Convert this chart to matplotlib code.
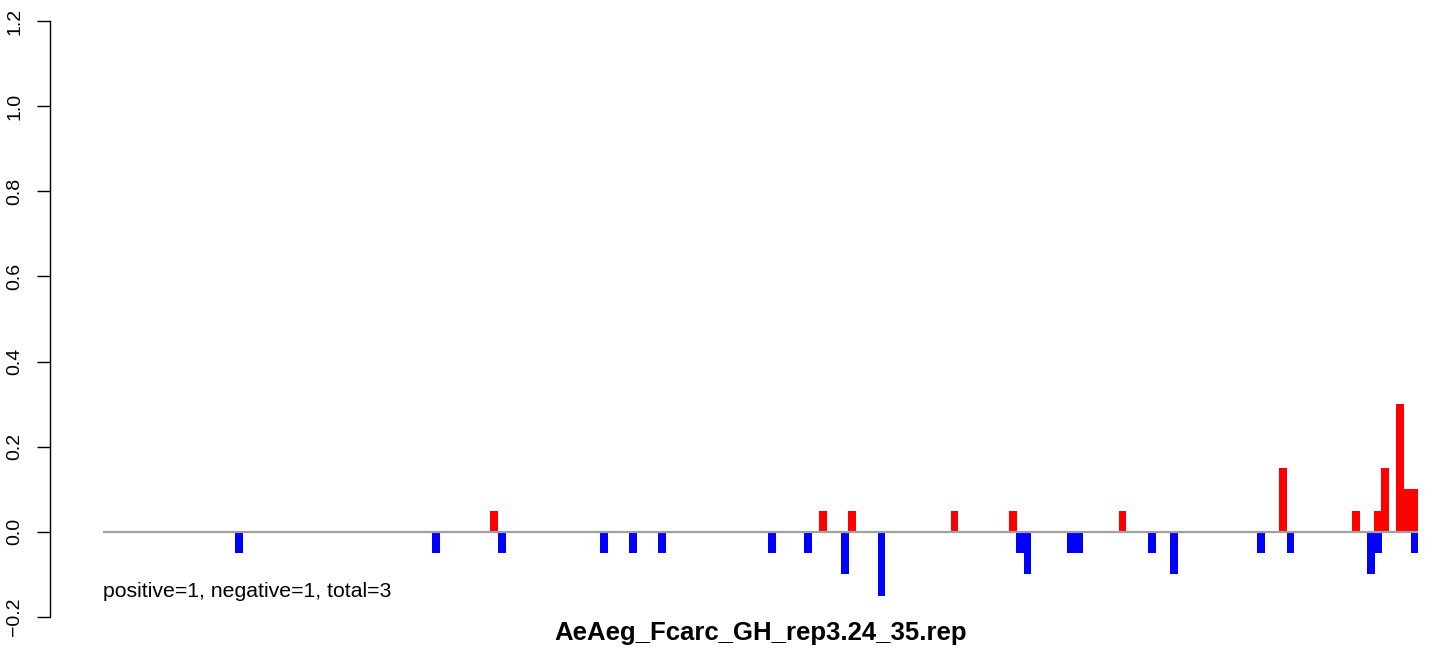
import matplotlib
matplotlib.use("Agg")
import matplotlib.pyplot as plt

plt.rcParams['font.family'] = ['Liberation Sans', 'DejaVu Sans']

# number of positions along the window
n_pos = 180

# positive (red) bars: index, height
pos_idx = [53, 98, 102, 116, 124, 139, 161, 171, 174, 175, 177, 178, 179]
pos_val = [0.05, 0.05, 0.05, 0.05, 0.05, 0.05, 0.15, 0.05, 0.05, 0.15, 0.30, 0.10, 0.10]

# negative (blue) bars: index, height
neg_idx = [18, 45, 54, 68, 72, 76, 91, 96, 101, 106, 125, 126, 132, 133,
           143, 146, 158, 162, 173, 174, 179]
neg_val = [-0.05, -0.05, -0.05, -0.05, -0.05, -0.05, -0.05, -0.05, -0.10, -0.15,
           -0.05, -0.10, -0.05, -0.05, -0.05, -0.10, -0.05, -0.05, -0.10, -0.05, -0.05]

yticks = [-0.2, 0.0, 0.2, 0.4, 0.6, 0.8, 1.0, 1.2]
ytick_labels = ["\u22120.2", "0.0", "0.2", "0.4", "0.6", "0.8", "1.0", "1.2"]
summary = "positive=1, negative=1, total=3"
title = "AeAeg_Fcarc_GH_rep3.24_35.rep"

W, H = 1444, 650
fig = plt.figure(figsize=(W / 100, H / 100), dpi=100)
x0, x1, ytop, ybot = 103.3, 1418, 21, 617
ax = fig.add_axes([x0 / W, (H - ybot) / H, (x1 - x0) / W, (ybot - ytop) / H])

bw = 1.08
ax.bar(pos_idx, pos_val, width=bw, align='edge', color='#FF0000', linewidth=0)
ax.bar(neg_idx, neg_val, width=bw, align='edge', color='#0000FF', linewidth=0)
ax.hlines(0, 0, n_pos, color='#A0A0A0', linewidth=1.6, zorder=3)

ax.set_xlim(0, n_pos)
ax.set_ylim(-0.2, 1.2)
for s in ['top', 'right', 'bottom']:
    ax.spines[s].set_visible(False)
ax.spines['left'].set_position(('outward', 53.3 * 0.72))
ax.spines['left'].set_linewidth(1.0)
ax.set_xticks([])
ax.set_yticks(yticks)
ax.set_yticklabels(ytick_labels, rotation=90, va='center')
ax.tick_params(axis='y', length=9.4, width=1.0, pad=10, labelsize=14)

ax.text(0, -0.14, summary, fontsize=15.3, ha='left', va='center')
fig.text(0.5 * (x0 + x1) / W, (H - 633) / H, title, fontsize=18.5, fontweight='bold',
         ha='center', va='center')

fig.savefig("out.png", dpi=100)
